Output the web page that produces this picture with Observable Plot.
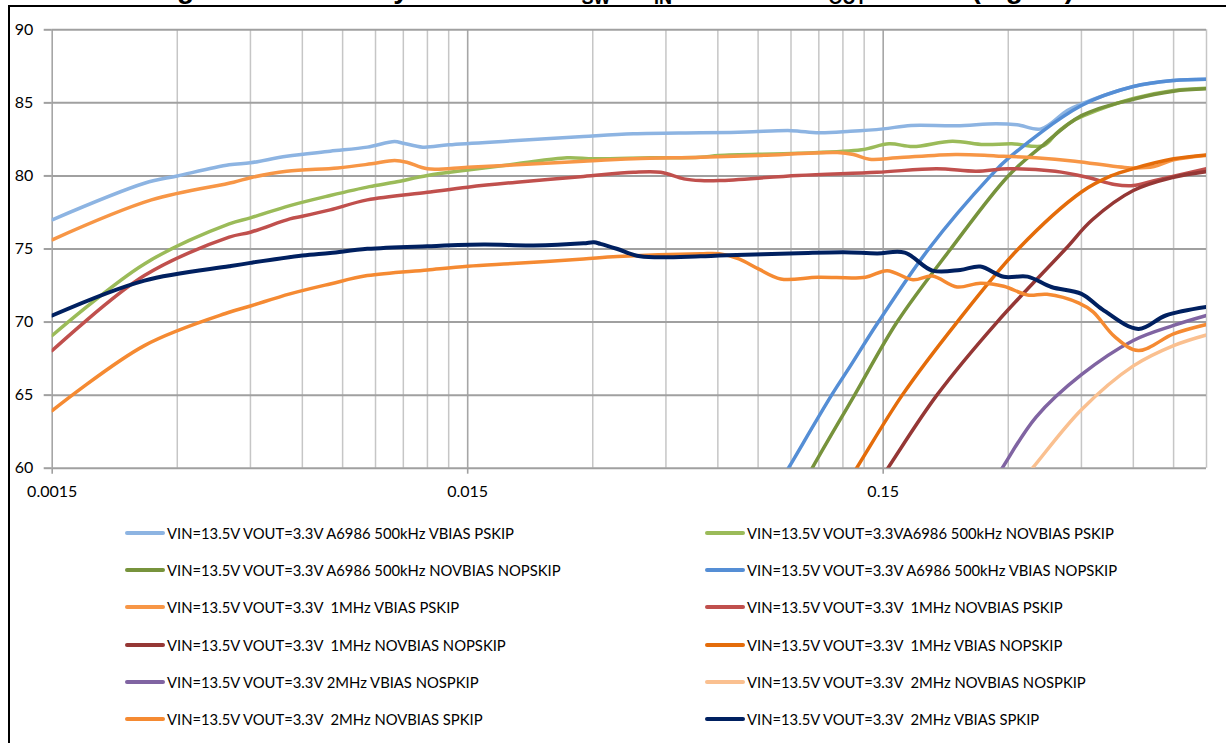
<!DOCTYPE html>
<html><head><meta charset="utf-8">
<script src="https://cdn.jsdelivr.net/npm/d3@7"></script>
<script src="https://cdn.jsdelivr.net/npm/@observablehq/plot@0.6"></script>
<style>
html,body{margin:0;padding:0;background:#fff;width:1226px;height:743px;overflow:hidden;}
#wrap{position:relative;width:1226px;height:743px;overflow:hidden;}
#frame{position:absolute;left:8px;top:5px;width:1400px;height:900px;border-top:2px solid #000;border-left:2px solid #000;}
#title{position:absolute;left:0;top:0;}
#chart{position:absolute;left:0;top:0;}
.item{position:absolute;display:flex;align-items:center;height:20px;font-family:Lato,"Open Sans",sans-serif;color:#000;white-space:pre;}
.sw{width:40px;height:4px;border-radius:2px;margin-right:2px;flex:none;}
</style></head>
<body><div id="wrap">
<div id="frame"></div>
<svg id="title" width="1226" height="6"><text x="152" y="-2.5" font-family="Liberation Sans, Arial, sans-serif" font-weight="bold" font-size="28" fill="#000">Figure 1. Efficiency vs Current&#160; f<tspan dy="6.5" font-size="18">SW</tspan><tspan dy="-6.5"> · V</tspan><tspan dy="6.5" font-size="18">IN</tspan><tspan dy="-6.5"> = 13.5 V · V</tspan><tspan dy="6.5" font-size="18">OUT</tspan><tspan dy="-6.5"> = 3.3 V (log-lin)</tspan></text></svg>
<div id="chart"></div>
<div id="legend"></div>
</div>
<script>
// ---- series labels and colours (legend order of the original chart) ----
const seriesNames = [
  "VIN=13.5V VOUT=3.3V A6986 500kHz VBIAS PSKIP",
  "VIN=13.5V VOUT=3.3VA6986 500kHz NOVBIAS PSKIP",
  "VIN=13.5V VOUT=3.3V A6986 500kHz NOVBIAS NOPSKIP",
  "VIN=13.5V VOUT=3.3V A6986 500kHz VBIAS NOPSKIP",
  "VIN=13.5V VOUT=3.3V  1MHz VBIAS PSKIP",
  "VIN=13.5V VOUT=3.3V  1MHz NOVBIAS PSKIP",
  "VIN=13.5V VOUT=3.3V  1MHz NOVBIAS NOPSKIP",
  "VIN=13.5V VOUT=3.3V  1MHz VBIAS NOPSKIP",
  "VIN=13.5V VOUT=3.3V 2MHz VBIAS NOSPKIP",
  "VIN=13.5V VOUT=3.3V  2MHz NOVBIAS NOSPKIP",
  "VIN=13.5V VOUT=3.3V  2MHz NOVBIAS SPKIP",
  "VIN=13.5V VOUT=3.3V  2MHz VBIAS SPKIP"
];
const seriesColors = ["#8db4e2","#9bbb59","#77933c","#558ed5","#f79646","#c0504d",
                      "#953735","#e46c0a","#8064a2","#fac090","#f58a32","#002060"];

// ---- data: load current (A) and efficiency (%) per series ----
const i500kVbiasPskip = [0.0015,0.0025,0.003,0.004,0.0045,0.0055,0.007,0.0086,0.01,0.0105,0.0117,0.0135,0.0197,0.0285,0.0376,0.0545,0.07,0.09,0.105,0.125,0.15,0.175,0.225,0.28,0.315,0.36,0.416,0.45,0.6,0.75,0.9];
const e500kVbiasPskip = [77.0,79.5,80.0,80.76,80.9,81.35,81.69,81.97,82.35,82.24,81.97,82.13,82.42,82.7,82.88,82.95,83.0,83.1,82.95,83.05,83.22,83.45,83.43,83.57,83.5,83.22,84.48,84.93,86.12,86.53,86.62];

const i500kNovbiasPskip = [0.0015,0.0025,0.004,0.0045,0.0056,0.007,0.0087,0.01,0.012,0.015,0.0197,0.026,0.0302,0.0413,0.0545,0.0604,0.0936,0.133,0.155,0.177,0.22,0.262,0.306,0.365,0.394,0.424,0.456,0.6,0.75,0.9];
const e500kNovbiasPskip = [69.08,73.98,76.72,77.13,77.97,78.66,79.27,79.57,80.03,80.41,80.83,81.24,81.17,81.24,81.28,81.4,81.55,81.79,82.2,82.01,82.38,82.15,82.2,82.08,82.99,83.68,84.13,85.3,85.85,86.0];

const i500kNovbiasNopskip = [0.085,0.1012,0.128,0.162,0.218,0.3,0.36,0.45,0.6,0.75,0.9];
const e500kNovbiasNopskip = [56.0,60,65,70,75,80,82.0,84.13,85.25,85.8,85.96];

const i500kVbiasNopskip = [0.075,0.0887,0.1127,0.1251,0.146,0.193,0.272,0.3,0.45,0.6,0.75,0.9];
const e500kVbiasNopskip = [56.5,60,65,67.0,70,75,80,81.2,84.82,86.12,86.53,86.62];

const i1MVbiasPskip = [0.0015,0.0026,0.0041,0.0045,0.0055,0.0073,0.0088,0.01,0.0107,0.012,0.015,0.0197,0.0285,0.0376,0.0545,0.075,0.1164,0.1272,0.139,0.162,0.224,0.28,0.349,0.434,0.59,0.673,0.75,0.9];
const e1MVbiasPskip = [75.63,78.36,79.57,79.88,80.32,80.55,80.83,81.05,80.94,80.49,80.6,80.76,81.01,81.17,81.28,81.4,81.6,81.47,81.14,81.24,81.47,81.37,81.24,81.01,80.55,80.64,81.1,81.4];

const i1MNovbiasPskip = [0.0015,0.0025,0.004,0.0045,0.0056,0.006,0.007,0.0086,0.012,0.015,0.0197,0.0285,0.0376,0.0437,0.0497,0.0545,0.0604,0.0936,0.145,0.2016,0.251,0.3,0.389,0.464,0.541,0.6,0.673,0.9];
const e1MNovbiasPskip = [68.05,73.18,75.81,76.15,77.06,77.24,77.68,78.36,78.88,79.23,79.57,79.96,80.25,80.25,79.8,79.68,79.68,80.03,80.25,80.49,80.32,80.49,80.32,79.91,79.41,79.34,79.68,80.49];

const i1MNovbiasNopskip = [0.13,0.1539,0.202,0.282,0.412,0.478,0.6,0.75,0.9];
const e1MNovbiasNopskip = [56.8,60,65,70,75,77,79.0,79.91,80.3];

const i1MVbiasNopskip = [0.11,0.1294,0.1667,0.226,0.317,0.45,0.53,0.6,0.75,0.9];
const e1MVbiasNopskip = [56.8,60,65,70,75,78.9,80,80.5,81.17,81.44];

const i2MVbiasNoskip = [0.25,0.29,0.35,0.45,0.6,0.75,0.9];
const e2MVbiasNoskip = [57.0,60,63.5,66.4,68.74,69.77,70.45];

const i2MNovbiasNoskip = [0.3,0.343,0.45,0.6,0.75,0.9];
const e2MNovbiasNoskip = [58,60,64,67.0,68.39,69.12];

const i2MNovbiasSkip = [0.0015,0.0025,0.004,0.0045,0.0056,0.007,0.0086,0.012,0.015,0.0197,0.0285,0.0344,0.0545,0.0604,0.0674,0.0751,0.085,0.1045,0.136,0.1533,0.177,0.197,0.226,0.257,0.2926,0.334,0.372,0.444,0.48,0.541,0.617,0.75,0.9];
const e2MNovbiasSkip = [63.94,68.39,70.67,71.1,71.93,72.61,73.18,73.57,73.82,74.02,74.32,74.48,74.67,74.67,74.32,73.64,72.95,73.07,73.07,73.52,72.89,73.15,72.4,72.66,72.45,71.85,71.9,71.3,70.7,69.0,68.05,69.19,69.83];

const i2MVbiasSkip = [0.0015,0.0025,0.004,0.0045,0.006,0.007,0.0086,0.012,0.0164,0.0216,0.0285,0.0302,0.0313,0.0344,0.039,0.0545,0.0604,0.0936,0.1206,0.145,0.169,0.197,0.23,0.257,0.2926,0.334,0.381,0.45,0.506,0.617,0.718,0.9];
const e2MVbiasSkip = [70.45,72.84,73.82,74.05,74.55,74.73,75.01,75.19,75.3,75.24,75.39,75.46,75.35,75.0,74.5,74.5,74.55,74.71,74.78,74.7,74.75,73.52,73.57,73.8,73.1,73.11,72.4,71.93,70.85,69.53,70.45,71.03];

const seriesCurrents = [i500kVbiasPskip,i500kNovbiasPskip,i500kNovbiasNopskip,i500kVbiasNopskip,i1MVbiasPskip,i1MNovbiasPskip,i1MNovbiasNopskip,i1MVbiasNopskip,i2MVbiasNoskip,i2MNovbiasNoskip,i2MNovbiasSkip,i2MVbiasSkip];
const seriesEffs = [e500kVbiasPskip,e500kNovbiasPskip,e500kNovbiasNopskip,e500kVbiasNopskip,e1MVbiasPskip,e1MNovbiasPskip,e1MNovbiasNopskip,e1MVbiasNopskip,e2MVbiasNoskip,e2MNovbiasNoskip,e2MNovbiasSkip,e2MVbiasSkip];

// ---- axis ticks ----
const xTickLabels = [0.0015, 0.015, 0.15];
const xMinorGrid = [0.003,0.0045,0.006,0.0075,0.009,0.0105,0.012,0.0135,0.03,0.045,0.06,0.075,0.09,0.105,0.12,0.135,0.3,0.45,0.6,0.75,0.9];
const yTicks = [60,65,70,75,80,85,90];

const lineMarks = seriesNames.map((name, k) => {
  const rows = seriesCurrents[k].map((c, j) => ({current: c, eff: seriesEffs[k][j]}));
  return Plot.line(rows, {x: "current", y: "eff", stroke: seriesColors[k], strokeWidth: k === 11 ? 4 : 3.5,
    curve: "catmull-rom", clip: true, strokeLinecap: "round", strokeLinejoin: "round"});
});

const chart = Plot.plot({
  width: 1226, height: 510,
  marginTop: 29.3, marginBottom: 42.3, marginLeft: 51.7, marginRight: 20,
  x: {type: "log", domain: [0.0015, 0.9]},
  y: {domain: [60, 90]},
  style: {fontFamily: "Lato, 'Open Sans', sans-serif", fontSize: "16px", color: "#000", background: "transparent"},
  marks: [
    Plot.ruleX(xMinorGrid, {stroke: "#c6c6c6", strokeWidth: 1.5}),
    Plot.ruleX(xTickLabels, {stroke: "#a6a6a6", strokeWidth: 1.6}),
    Plot.ruleY(yTicks, {stroke: "#a0a0a0", strokeWidth: 2}),
    Plot.axisX(xTickLabels, {tickSize: 6, tickPadding: 11, tickFormat: d => String(d), stroke: "#a0a0a0", strokeWidth: 1.6, fill: "#000", label: null}),
    Plot.axisY(yTicks, {tickSize: 8, tickPadding: 11, stroke: "#a0a0a0", strokeWidth: 2, fill: "#000", label: null}),
    ...lineMarks
  ]
});
document.getElementById("chart").appendChild(chart);

// ---- legend (two columns, row-major like Excel) ----
const cv = document.createElement("canvas").getContext("2d");
cv.font = "100px Lato";
const w0 = cv.measureText(seriesNames[0]).width;
const legendFont = Math.max(12, Math.min(18, 100 * 350 / w0));
const rowY = [532.7, 570, 607.3, 644.7, 682, 719.3];
const colX = [125, 705];
const leg = document.getElementById("legend");
seriesNames.forEach((name, k) => {
  const row = Math.floor(k / 2), col = k % 2;
  const it = document.createElement("div");
  it.className = "item";
  it.style.left = colX[col] + "px";
  it.style.top = (rowY[row] - 10) + "px";
  it.style.fontSize = legendFont + "px";
  const sw = document.createElement("div");
  sw.className = "sw";
  sw.style.background = seriesColors[k];
  const tx = document.createElement("span");
  tx.textContent = name;
  it.appendChild(sw); it.appendChild(tx);
  leg.appendChild(it);
});
</script>
</body></html>
